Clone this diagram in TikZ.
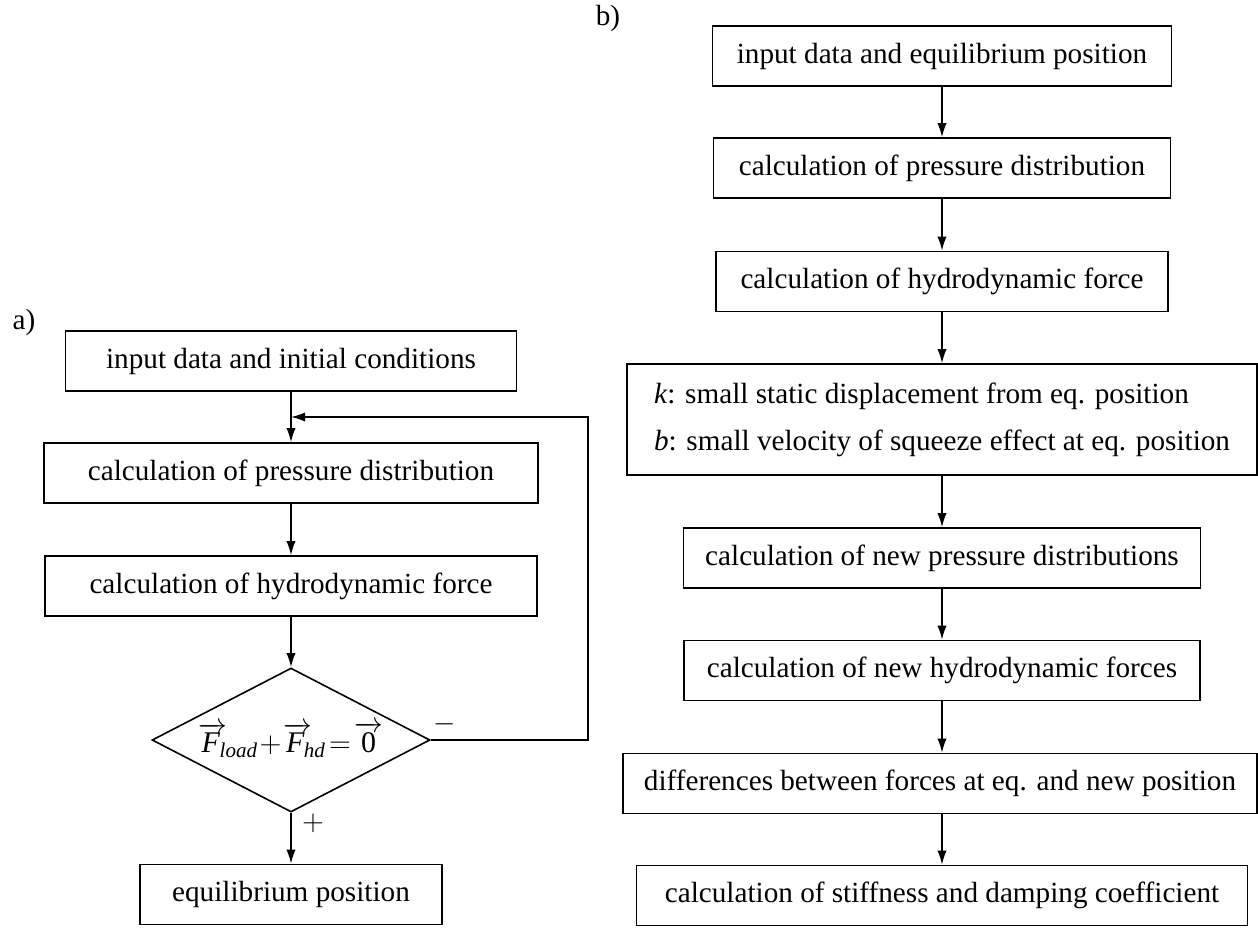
\documentclass[tikz,border=0pt]{standalone}
\usepackage{amsmath}
\usepackage{fontspec}
\setmainfont{Liberation Serif}
\usetikzlibrary{arrows.meta,shapes.geometric}

\begin{document}
\begin{tikzpicture}[x=0.5pt,y=-0.5pt]
\tikzstyle{every node}+=[inner sep=0pt,font=\fontsize{14.6}{23.5}\selectfont]
\tikzstyle{stepbox}=[draw=black,line width=0.8pt,rectangle,minimum height=30pt]
\tikzstyle{testbox}=[draw=black,line width=0.8pt,diamond,aspect=1.93,minimum width=139pt,minimum height=72pt,
  inner sep=-6pt,font=\fontsize{15}{18}\selectfont]
\tikzstyle{flow}=[draw=black,line width=0.8pt,-{Latex[length=7pt,width=4.6pt]}]
\useasboundingbox (0,0) rectangle (1258,928);

% a) chart
\node (la) at (24,322) {a)};
\node [stepbox,minimum width=225.5pt] (a1) at (291,361) {input data and initial conditions};
\node [stepbox,minimum width=247pt] (a2) at (291,473) {calculation of pressure distribution};
\node [stepbox,minimum width=246pt] (a3) at (291,586) {calculation of hydrodynamic force};
\node [testbox] (a4) at (291,740)
{$\overrightarrow{\textit{F}\,}\mkern-5mu_{\textit{load}}\mkern-3mu+\mkern-3mu
  \overrightarrow{\textit{F}\,}\mkern-5mu_{\textit{hd}}\mkern-3mu=\mkern-3mu
  \overrightarrow{\textrm{0}}$};
\node [stepbox,minimum width=151pt] (a5) at (291,894.5) {equilibrium position};
\draw [flow] (a1) -- (a2);
\draw [flow] (a2) -- (a3);
\draw [flow] (a3) -- (a4);
\draw [flow] (a4) -- (a5);
\node (plus) at (313,823) {$+$};

% Loop back
\coordinate (back) at (588,417);
\draw [flow] (a4.east) -| (back) -- (back -| a1.south);
\node (minus) at (445,724) {$-$};

% b) chart
\node (lb) at (608,18) {b)};
\node [stepbox,minimum width=229.5pt] (b1) at (942,56) {input data and equilibrium position};
\node [stepbox,minimum width=228.5pt] (b2) at (942,168) {calculation of pressure distribution};
\node [stepbox,minimum width=226pt] (b3) at (942,281.5) {calculation of hydrodynamic force};
\node [stepbox,minimum width=315pt,minimum height=55.5pt,align=left] (b4) at (942,419.5)
{\textit{k}: small static displacement from eq. position\\
 \textit{b}: small velocity of squeeze effect at eq. position};
\node [stepbox,minimum width=258.5pt] (b5) at (942,558) {calculation of new pressure distributions};
\node [stepbox,minimum width=258pt] (b6) at (942,670.5) {calculation of new hydrodynamic forces};
\node [stepbox,minimum width=317pt] (b7) at (940,783.5) {differences between forces at eq. and new position};
\node [stepbox,minimum width=305.5pt] (b8) at (942,895.5) {calculation of stiffness and damping coefficient};
\draw [flow] (b1) -- (b2);
\draw [flow] (b2) -- (b3);
\draw [flow] (b3) -- (b4);
\draw [flow] (b4) -- (b5);
\draw [flow] (b5) -- (b6);
\draw [flow] (b6.south) -- (b6.south |- b7.north);
\draw [flow] (b7.south -| b8) -- (b8);
\end{tikzpicture}
\end{document}
